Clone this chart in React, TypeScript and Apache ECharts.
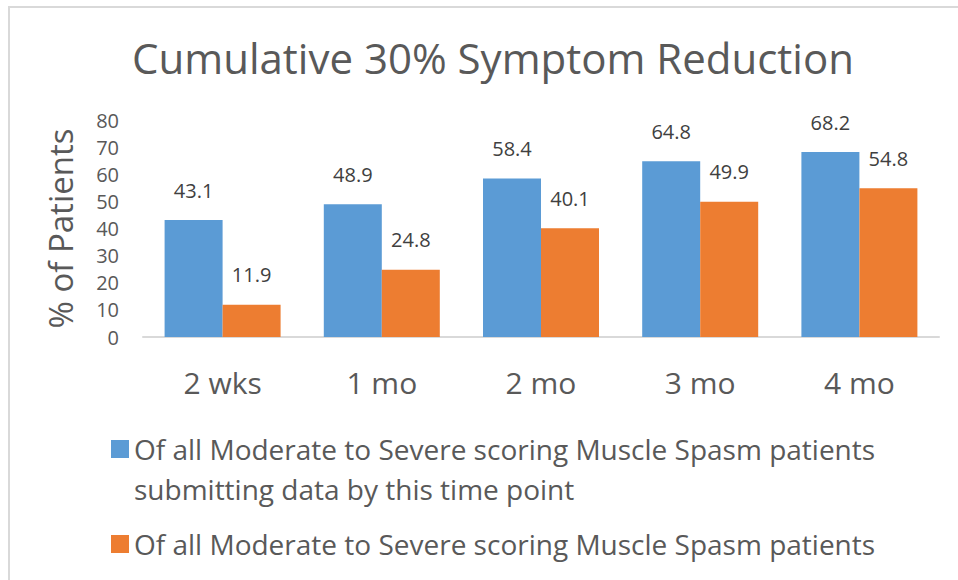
import React, { useEffect, useRef } from "react";
import * as echarts from "echarts";

const categories = ["2 wks", "1 mo", "2 mo", "3 mo", "4 mo"];
const seriesAllName = "Of all Moderate to Severe scoring Muscle Spasm patients\nsubmitting data by this time point";
const seriesAllValues = [43.1, 48.9, 58.4, 64.8, 68.2];
const seriesAll2Name = "Of all Moderate to Severe scoring Muscle Spasm patients";
const seriesAll2Values = [11.9, 24.8, 40.1, 49.9, 54.8];
const yTicks = [0, 10, 20, 30, 40, 50, 60, 70, 80];

const FONT = "Open Sans";

export default function App() {
  const ref = useRef<HTMLDivElement>(null);
  useEffect(() => {
    if (!ref.current) return;
    const chart = echarts.init(ref.current, null, { renderer: "svg" });
    const labelStyle = {
      show: true,
      position: "top" as const,
      distance: 20,
      color: "#404040",
      fontSize: 20,
      fontFamily: FONT,
      formatter: (p: any) => p.value.toFixed(1),
    };
    chart.setOption({
      animation: false,
      backgroundColor: "#ffffff",
      textStyle: { fontFamily: FONT },
      title: {
        text: "Cumulative 30% Symptom Reduction",
        left: 488,
        textAlign: "center",
        top: 31,
        textStyle: { fontFamily: FONT, fontSize: 42, fontWeight: "normal", color: "#595959" },
      },
      grid: { left: 143, right: 19, top: 120, bottom: 243 },
      xAxis: {
        type: "category",
        data: categories,
        axisLine: { lineStyle: { color: "#d9d9d9", width: 2 } },
        axisTick: { show: false },
        axisLabel: { color: "#595959", fontSize: 30, fontFamily: FONT, margin: 30 },
      },
      yAxis: {
        type: "value",
        min: yTicks[0],
        max: yTicks[yTicks.length - 1],
        interval: 10,
        name: "% of Patients",
        nameLocation: "middle",
        nameGap: 66,
        nameTextStyle: { color: "#595959", fontSize: 33, fontFamily: FONT },
        axisLine: { show: false },
        axisTick: { show: false },
        splitLine: { show: false },
        axisLabel: { color: "#595959", fontSize: 20, fontFamily: FONT, margin: 24 },
      },
      legend: [
        {
          data: [seriesAllName],
          left: 111,
          top: 389,
          padding: 0,
          itemWidth: 18,
          itemHeight: 18,
          icon: "rect",
          formatter: (name: string) => "\n" + name,
          textStyle: { color: "#595959", fontSize: 28, fontFamily: FONT, lineHeight: 40 },
        },
        {
          data: [seriesAll2Name],
          left: 111,
          top: 524,
          padding: 0,
          itemWidth: 18,
          itemHeight: 18,
          icon: "rect",
          textStyle: { color: "#595959", fontSize: 28, fontFamily: FONT, lineHeight: 40 },
        },
      ],
      series: [
        {
          name: seriesAllName,
          type: "bar",
          data: seriesAllValues,
          barWidth: 58,
          barGap: "0%",
          itemStyle: { color: "#5b9bd5" },
          label: labelStyle,
        },
        {
          name: seriesAll2Name,
          type: "bar",
          data: seriesAll2Values,
          barWidth: 58,
          barGap: "0%",
          itemStyle: { color: "#ed7d31" },
          label: labelStyle,
        },
      ],
      graphic: [
        { type: "line", shape: { x1: 8, y1: 7, x2: 958, y2: 7 }, style: { stroke: "#d9d9d9", lineWidth: 2 } },
        { type: "line", shape: { x1: 9, y1: 6, x2: 9, y2: 580 }, style: { stroke: "#d9d9d9", lineWidth: 2 } },
      ],
    });
    return () => chart.dispose();
  }, []);
  return (
    <div
      ref={ref}
      style={{ position: "fixed", left: 0, top: 0, width: 958, height: 580 }}
    />
  );
}
